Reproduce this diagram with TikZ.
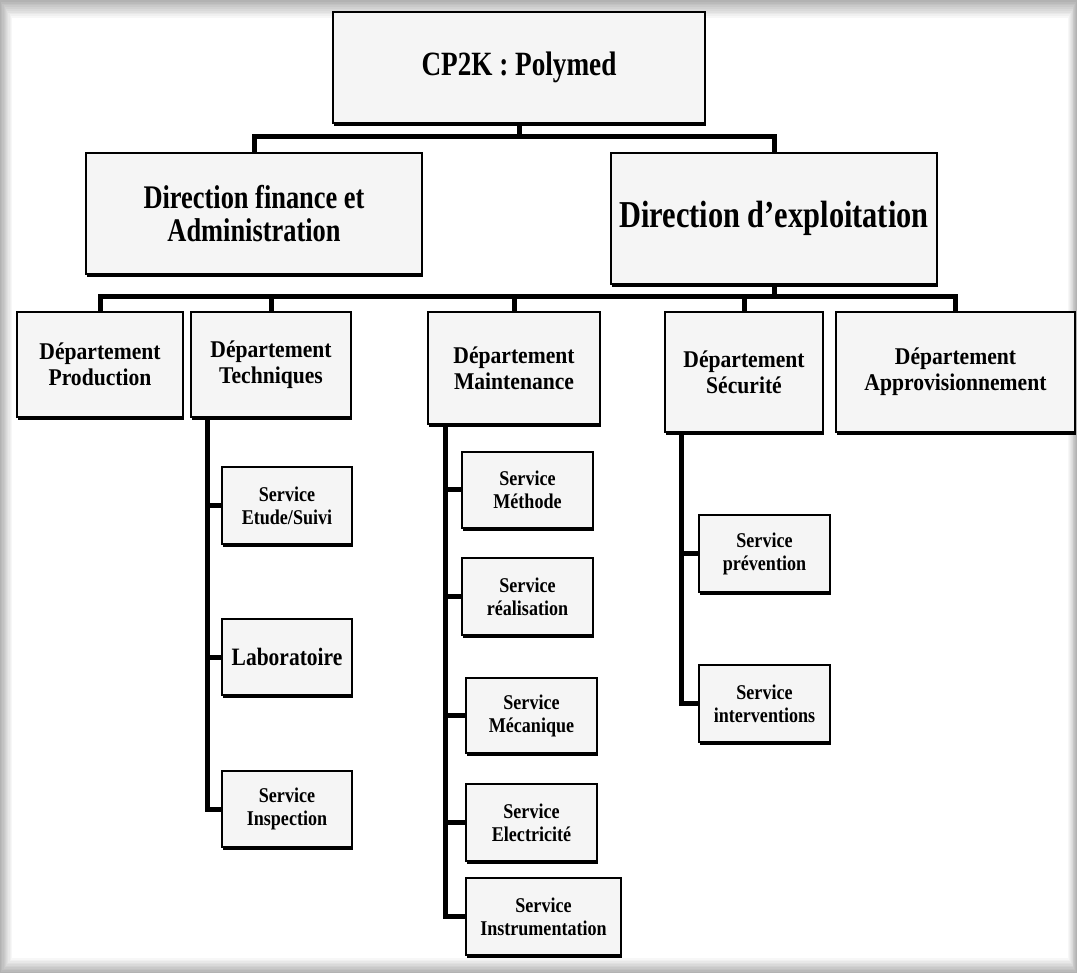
\documentclass[tikz,border=0pt]{standalone}
\usepackage{fontspec}
\setmainfont{Liberation Serif}
\newfontfamily\hfont[FakeStretch=0.8]{Liberation Serif}
\newfontfamily\dpfont[FakeStretch=0.9]{Liberation Serif}
\newfontfamily\svfont[FakeStretch=0.86]{Liberation Serif}
\usetikzlibrary{shadows}
\begin{document}
\begin{tikzpicture}[x=1pt,y=-1pt,
  box/.style={draw=black, line width=1.6pt, fill=black!4, align=center, inner sep=0pt,
    drop shadow={shadow xshift=0.6pt, shadow yshift=-2.6pt, opacity=1, fill=black}},
  topbox/.style={box, font=\hfont\bfseries\fontsize{34}{38}\selectfont},
  dirbox/.style={box, font=\hfont\bfseries\fontsize{33}{33}\selectfont},
  bigdir/.style={box, font=\hfont\bfseries\fontsize{38}{40}\selectfont},
  deptbox/.style={box, font=\dpfont\bfseries\fontsize{24}{26}\selectfont},
  servbox/.style={box, font=\svfont\bfseries\fontsize{21}{23}\selectfont},
  labbox/.style={box, font=\svfont\bfseries\fontsize{25}{26}\selectfont},
  conn/.style={draw=black, line width=5pt, line join=miter}
]
\useasboundingbox (0,0) rectangle (1077,973);
% page with soft grey border
\fill[black!32] (0,0) rectangle (1077,973);
\foreach \k in {0,...,9}{
  \pgfmathtruncatemacro\c{30-3*\k}
  \fill[black!\c] (\k*1.2,\k*1.8) rectangle (1077-\k*0.9,973-\k*1.5);
}
\fill[white] (12,18) rectangle (1068,958);

% level 0 and 1
\node[topbox, minimum width=372pt, minimum height=111pt] (cp2k) at (519,67.5) {CP2K : Polymed};
\node[dirbox, minimum width=336pt, minimum height=121pt] (dfa) at (254,213.5) {Direction finance et\\Administration};
\node[bigdir, minimum width=326pt, minimum height=131pt] (dex) at (774,218.5) {Direction d’exploitation};

% departments
\node[deptbox, minimum width=166pt, minimum height=105pt] (dprod) at (100,364.5) {Département\\Production};
\node[deptbox, minimum width=160pt, minimum height=105pt] (dtech) at (271,364.5) {Département\\Techniques};
\node[deptbox, minimum width=172pt, minimum height=112pt] (dmaint) at (514,368) {Département\\Maintenance};
\node[deptbox, minimum width=158pt, minimum height=120pt] (dsec) at (744,372) {Département\\Sécurité};
\node[deptbox, minimum width=239pt, minimum height=120pt] (dappro) at (955.5,372) {Département\\Approvisionnement};

% services of Techniques
\node[servbox, minimum width=130pt, minimum height=77pt] (setude) at (287,505.5) {Service\\Etude/Suivi};
\node[labbox, minimum width=130pt, minimum height=76pt] (slab) at (287,657) {Laboratoire};
\node[servbox, minimum width=130pt, minimum height=76pt] (sinsp) at (287,809) {Service\\Inspection};

% services of Maintenance
\node[servbox, minimum width=131pt, minimum height=76pt] (smeth) at (527.5,490) {Service\\Méthode};
\node[servbox, minimum width=131pt, minimum height=77pt] (sreal) at (527.5,596.5) {Service\\réalisation};
\node[servbox, minimum width=131pt, minimum height=75pt] (smeca) at (531.5,715.5) {Service\\Mécanique};
\node[servbox, minimum width=131pt, minimum height=77pt] (selec) at (531.5,822.5) {Service\\Electricité};
\node[servbox, minimum width=155pt, minimum height=77pt] (sinst) at (543.5,916.5) {Service\\Instrumentation};

% services of Sécurité
\node[servbox, minimum width=131pt, minimum height=77pt] (sprev) at (764.5,553.5) {Service\\prévention};
\node[servbox, minimum width=131pt, minimum height=77pt] (sinter) at (764.5,703.5) {Service\\interventions};

% connectors level 0 -> 1
\coordinate (b1) at (519,137);
\draw[conn] (cp2k.south) -- (b1);
\draw[conn] (dfa.north) |- (b1) -| (dex.north);

% connectors level 1 -> departments
\coordinate (b2) at (774,297);
\draw[conn] (dex.south) -- (b2);
\draw[conn] (dprod.north) |- (b2) -| (dappro.north);
\draw[conn] (dtech.north) -- (dtech.north |- b2);
\draw[conn] (dmaint.north) -- (dmaint.north |- b2);
\draw[conn] (dsec.north) -- (dsec.north |- b2);

% Techniques tree
\coordinate (tt) at ([xshift=17pt]dtech.south west);
\draw[conn] (tt) |- (sinsp.west);
\draw[conn] (setude.west) -- (setude.west -| tt);
\draw[conn] (slab.west) -- (slab.west -| tt);

% Maintenance tree
\coordinate (mt) at ([xshift=18pt]dmaint.south west);
\draw[conn] (mt) |- (sinst.west);
\draw[conn] (smeth.west) -- (smeth.west -| mt);
\draw[conn] (sreal.west) -- (sreal.west -| mt);
\draw[conn] (smeca.west) -- (smeca.west -| mt);
\draw[conn] (selec.west) -- (selec.west -| mt);

% Securite tree
\coordinate (st) at ([xshift=17pt]dsec.south west);
\draw[conn] (st) |- (sinter.west);
\draw[conn] (sprev.west) -- (sprev.west -| st);
\end{tikzpicture}
\end{document}
